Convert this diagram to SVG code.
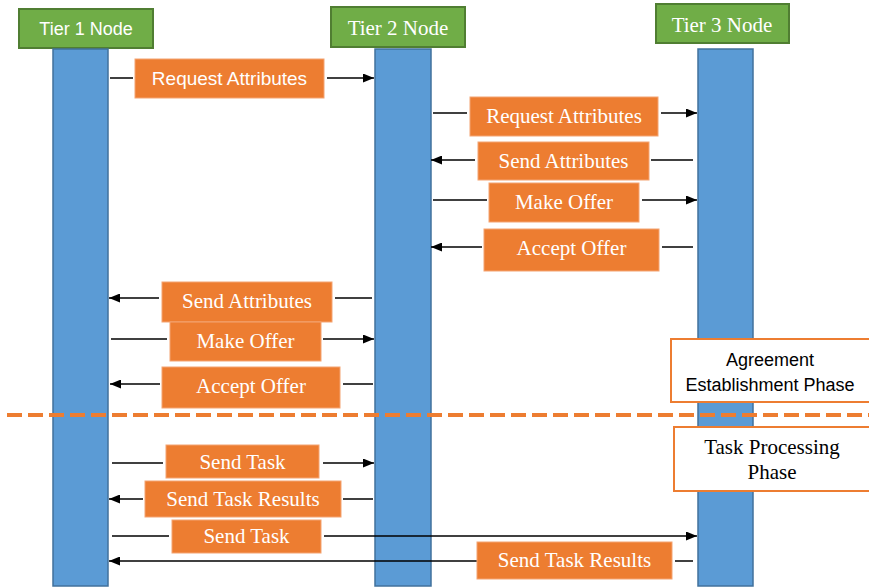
<svg xmlns="http://www.w3.org/2000/svg" width="869" height="587" viewBox="0 0 869 587">
<defs>
<marker id="ah" markerWidth="11" markerHeight="9" refX="11" refY="4.5" orient="auto" markerUnits="userSpaceOnUse">
<path d="M0,0 L11,4.5 L0,9 Z" fill="#000"/>
</marker>
<style>
.hdr{fill:#70AD47;stroke:#507E32;stroke-width:2}
.life{fill:#5B9BD5;stroke:#41719C;stroke-width:1.5}
.msg{fill:#ED7D31;stroke:#F4A472;stroke-width:1}
.phase{fill:#fff;stroke:#ED7D31;stroke-width:2}
.ln{stroke:#000;stroke-width:1.5;fill:none}
.ar{stroke:#000;stroke-width:1.5;fill:none;marker-end:url(#ah)}
.sw{font-family:"Liberation Sans",Arial,sans-serif;font-size:18px;fill:#fff;text-anchor:middle}
.rw{font-family:"Liberation Serif","Times New Roman",serif;font-size:21px;fill:#fff;text-anchor:middle}
.sb{font-family:"Liberation Sans",Arial,sans-serif;font-size:18px;fill:#000;text-anchor:middle}
.rb{font-family:"Liberation Serif","Times New Roman",serif;font-size:21px;fill:#000;text-anchor:middle}
</style>
</defs>
<rect width="869" height="587" fill="#fff"/>

<g id="tier1">
<rect class="hdr" x="19" y="9" width="134" height="39"/>
<text class="sw" x="86" y="35">Tier 1 Node</text>
<rect class="life" x="53" y="49" width="55" height="537"/>
</g>
<g id="tier2">
<rect class="hdr" x="331" y="7" width="134" height="40"/>
<text class="rw" x="398" y="35">Tier 2 Node</text>
<rect class="life" x="375" y="49" width="56" height="537"/>
</g>
<g id="tier3">
<rect class="hdr" x="656" y="4" width="133" height="39"/>
<text class="rw" x="722" y="32">Tier 3 Node</text>
<rect class="life" x="698" y="49" width="55" height="537"/>
</g>

<line id="phase-divider" x1="7" y1="415" x2="869" y2="415" stroke="#ED7D31" stroke-width="4" stroke-dasharray="15 6"/>

<g id="agreement-phase">
<rect class="phase" x="671" y="339" width="205" height="63"/>
<text class="sb" x="770" y="366">Agreement</text>
<text class="sb" x="770" y="391">Establishment Phase</text>
</g>
<g id="task-phase">
<rect class="phase" x="674" y="427" width="202" height="64"/>
<text class="rb" x="772" y="454">Task Processing</text>
<text class="rb" x="772" y="479">Phase</text>
</g>

<g id="connectors">
<line class="ln" x1="110" y1="78" x2="133" y2="78"/><line class="ar" x1="327" y1="78" x2="374" y2="78"/>
<line class="ln" x1="433" y1="113" x2="467" y2="113"/><line class="ar" x1="661" y1="113" x2="697" y2="113"/>
<line class="ln" x1="693" y1="160" x2="651" y2="160"/><line class="ar" x1="475" y1="160" x2="431" y2="160"/>
<line class="ln" x1="433" y1="200" x2="487" y2="200"/><line class="ar" x1="642" y1="200" x2="697" y2="200"/>
<line class="ln" x1="693" y1="247" x2="662" y2="247"/><line class="ar" x1="482" y1="247" x2="431" y2="247"/>
<line class="ln" x1="372" y1="298" x2="335" y2="298"/><line class="ar" x1="159" y1="298" x2="109" y2="298"/>
<line class="ln" x1="111" y1="339" x2="167" y2="339"/><line class="ar" x1="323" y1="339" x2="374" y2="339"/>
<line class="ln" x1="373" y1="384" x2="343" y2="384"/><line class="ar" x1="160" y1="384" x2="110" y2="384"/>
<line class="ln" x1="112" y1="463" x2="163" y2="463"/><line class="ar" x1="323" y1="463" x2="374" y2="463"/>
<line class="ln" x1="373" y1="499" x2="343" y2="499"/><line class="ar" x1="143" y1="499" x2="109" y2="499"/>
<line class="ln" x1="112" y1="536" x2="169" y2="536"/><line class="ar" x1="324" y1="536" x2="697" y2="536"/>
<line class="ln" x1="693" y1="561" x2="675" y2="561"/><line class="ar" x1="477" y1="561" x2="109" y2="561"/>
</g>

<g id="m1"><rect class="msg" x="135" y="59" width="189" height="39"/><text class="sw" x="229.5" y="85" style="font-size:19px">Request Attributes</text></g>
<g id="m2"><rect class="msg" x="470" y="97" width="188" height="39"/><text class="rw" x="564" y="123">Request Attributes</text></g>
<g id="m3"><rect class="msg" x="478" y="142" width="171" height="38"/><text class="rw" x="563.5" y="168">Send Attributes</text></g>
<g id="m4"><rect class="msg" x="489" y="183" width="150" height="39"/><text class="rw" x="564" y="209">Make Offer</text></g>
<g id="m5"><rect class="msg" x="484" y="229" width="175" height="42"/><text class="rw" x="571.5" y="255">Accept Offer</text></g>
<g id="m6"><rect class="msg" x="162" y="282" width="170" height="40"/><text class="rw" x="247" y="308">Send Attributes</text></g>
<g id="m7"><rect class="msg" x="170" y="322" width="151" height="39"/><text class="rw" x="245.5" y="348">Make Offer</text></g>
<g id="m8"><rect class="msg" x="162" y="367" width="178" height="41"/><text class="rw" x="251" y="393">Accept Offer</text></g>
<g id="m9"><rect class="msg" x="166" y="445" width="153" height="33"/><text class="rw" x="242.5" y="469">Send Task</text></g>
<g id="m10"><rect class="msg" x="145" y="481" width="196" height="36"/><text class="rw" x="243" y="506">Send Task Results</text></g>
<g id="m11"><rect class="msg" x="172" y="520" width="149" height="33"/><text class="rw" x="246.5" y="543">Send Task</text></g>
<g id="m12"><rect class="msg" x="477" y="542" width="195" height="37"/><text class="rw" x="574.5" y="567">Send Task Results</text></g>
</svg>
